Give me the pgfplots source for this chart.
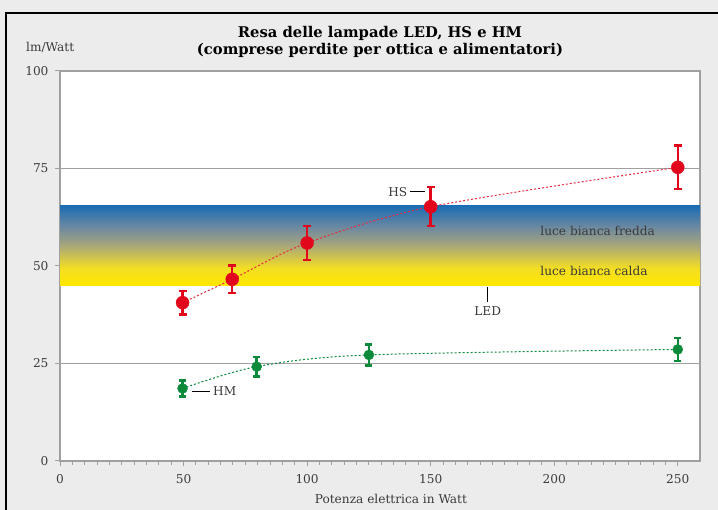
\documentclass[border=0pt]{standalone}
\usepackage{fontspec}
\setmainfont{DejaVu Serif}
\newfontfamily\titlefont{DejaVu Serif}
\usepackage{pgfplots}
\pgfplotsset{compat=1.18}
\definecolor{bg}{HTML}{EBECEB}
\definecolor{gridc}{HTML}{A0A0A0}
\definecolor{hsred}{HTML}{E2061C}
\definecolor{hmgreen}{HTML}{0A8A3A}
\definecolor{ledblue}{HTML}{1A6CB4}
\definecolor{ledb2}{HTML}{6A88A2}
\definecolor{ledmid}{HTML}{A9A67A}
\definecolor{ledy2}{HTML}{F3DE24}
\definecolor{ledyellow}{HTML}{FFE600}
\definecolor{txt}{HTML}{3A3A3A}
\pgfdeclareverticalshading{ledshade}{100bp}{color(0bp)=(ledyellow); color(25bp)=(ledyellow); color(36bp)=(ledy2); color(50bp)=(ledmid); color(62bp)=(ledb2); color(75bp)=(ledblue); color(100bp)=(ledblue)}
\newcommand\tfont{\fontsize{12.2}{14}\selectfont}
\begin{document}
\begin{tikzpicture}[x=1bp,y=1bp]
\path[use as bounding box, fill=bg] (0,0) rectangle (718,510);
\draw[black, line width=2bp] (6,-5) -- (6,497) -- (723,497);
\begin{axis}[
  at={(60bp,49bp)}, anchor=south west,
  scale only axis, width=640bp, height=390bp,
  xmin=0, xmax=259, ymin=0, ymax=100,
  axis background/.style={fill=white},
  axis line style={gridc, line width=1.5bp},
  xtick={0,50,...,250}, ytick={0,25,...,100},
  minor x tick num=9,
  tick align=outside, tick pos=left,
  major tick length=5bp, minor tick length=4bp,
  tick style={gridc, line width=1bp},
  ymajorgrids, grid style={gridc, line width=1.5bp},
  ticklabel style={font=\tfont, text=txt},
  xticklabel style={yshift=-5bp},
  yticklabel style={xshift=-3bp},
  /pgf/number format/assume math mode=true,
  xlabel={Potenza elettrica in Watt},
  xlabel style={at={(rel axis cs:0.517,0)}, anchor=center, yshift=-38bp, font=\tfont, text=txt},
  clip=false,
]
% LED band
\addplot[draw=none, shading=ledshade] coordinates {(0,45) (259,45) (259,65.5) (0,65.5)} -- cycle;
\node[anchor=west, text=txt, font=\tfont] at (axis cs:193,59) {luce bianca fredda};
\node[anchor=west, text=txt, font=\tfont] at (axis cs:193,48.7) {luce bianca calda};
% trend lines
\addplot[hsred!85, line width=1bp, dash pattern=on 2bp off 2bp, smooth] coordinates {(49.6,40.6) (69.7,46.6) (100,55.9) (150,65.2) (250,75.3)};
\addplot[hmgreen, line width=1bp, dash pattern=on 2bp off 2bp, smooth] coordinates {(49.6,18.6) (79.6,24.2) (125,27.2) (250,28.6)};
% HS
\addplot[hsred, only marks, mark=*, mark size=6.5bp,
  error bars/.cd, y dir=both, y explicit,
  error bar style={line width=2.5bp, hsred},
  error mark options={rotate=90, mark size=4bp, line width=2.5bp, hsred}]
  coordinates {(49.6,40.6) +- (0,3.0) (69.7,46.6) +- (0,3.5) (100,55.9) +- (0,4.4) (150,65.2) +- (0,5.0) (250,75.3) +- (0,5.6)};
% HM
\addplot[hmgreen, only marks, mark=*, mark size=5bp,
  error bars/.cd, y dir=both, y explicit,
  error bar style={line width=2.5bp, hmgreen},
  error mark options={rotate=90, mark size=3.5bp, line width=2.5bp, hmgreen}]
  coordinates {(49.6,18.6) +- (0,2.0) (79.6,24.2) +- (0,2.5) (125,27.2) +- (0,2.7) (250,28.6) +- (0,3.0)};
% leader lines
\addplot[black, line width=1bp] coordinates {(141.6,69) (147.7,69)};
\addplot[black, line width=1bp] coordinates {(53.4,17.9) (60.7,17.9)};
\addplot[black, line width=1bp] coordinates {(173.1,44.6) (173.1,40.8)};
\node[anchor=east, text=txt, font=\tfont, inner sep=1bp] at (axis cs:141,69) {HS};
\node[anchor=west, text=txt, font=\tfont, inner sep=1bp] at (axis cs:61.5,17.9) {HM};
\node[anchor=north, text=txt, font=\tfont, inner sep=1bp] at (axis cs:173.1,39.8) {LED};
\end{axis}
\node[anchor=west, text=txt, font=\tfont, inner sep=0pt] at (26,463) {lm/Watt};
\node[align=center, font=\titlefont\bfseries\fontsize{14.8}{17}\selectfont] at (380,468.5) {Resa delle lampade LED, HS e HM\\(comprese perdite per ottica e alimentatori)};
\end{tikzpicture}
\end{document}
